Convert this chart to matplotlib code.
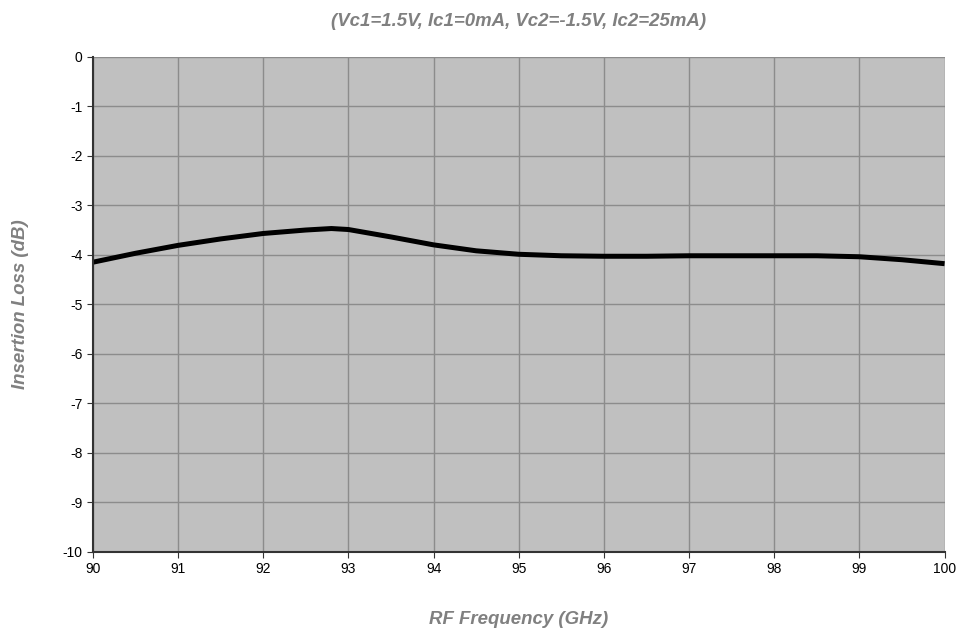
import matplotlib.pyplot as plt

plt.rcParams["font.family"] = ["Liberation Sans", "DejaVu Sans"]
plt.rcParams["axes.unicode_minus"] = False

freq = [90, 90.5, 91, 91.5, 92, 92.5, 92.8, 93, 93.5, 94, 94.5, 95, 95.5, 96, 96.5, 97, 97.5, 98, 98.5, 99, 99.5, 100]
loss = [-4.15, -3.97, -3.81, -3.68, -3.57, -3.50, -3.47, -3.49, -3.64, -3.80, -3.92, -3.99, -4.02, -4.03, -4.03, -4.02, -4.02, -4.02, -4.02, -4.04, -4.10, -4.18]

fig = plt.figure(figsize=(9.58, 6.3), dpi=100)
ax = fig.add_axes([0.097, 0.124, 0.889, 0.786])
ax.set_facecolor("#c0c0c0")
ax.plot(freq, loss, color="black", lw=3.6, solid_capstyle="butt")
ax.set_xlim(90, 100)
ax.set_ylim(-10, 0)
ax.set_xticks(range(90, 101))
ax.set_yticks(range(-10, 1))
ax.grid(True, color="#8c8c8c", lw=1)
ax.set_axisbelow(True)
for s in ["top", "right"]:
    ax.spines[s].set_visible(False)
for s in ["left", "bottom"]:
    ax.spines[s].set_color("#333333")
    ax.spines[s].set_linewidth(1.5)
ax.tick_params(labelsize=10, length=4, color="#333333")
ax.set_title("(Vc1=1.5V, Ic1=0mA, Vc2=-1.5V, Ic2=25mA)", fontsize=13.4, style="italic",
             weight="bold", color="#808080", pad=22)
ax.set_xlabel("RF Frequency (GHz)", fontsize=13.4, style="italic", weight="bold", color="#808080", labelpad=25)
ax.set_ylabel("Insertion Loss (dB)", fontsize=13.4, style="italic", weight="bold", color="#808080", labelpad=24)
fig.savefig("out.png")
